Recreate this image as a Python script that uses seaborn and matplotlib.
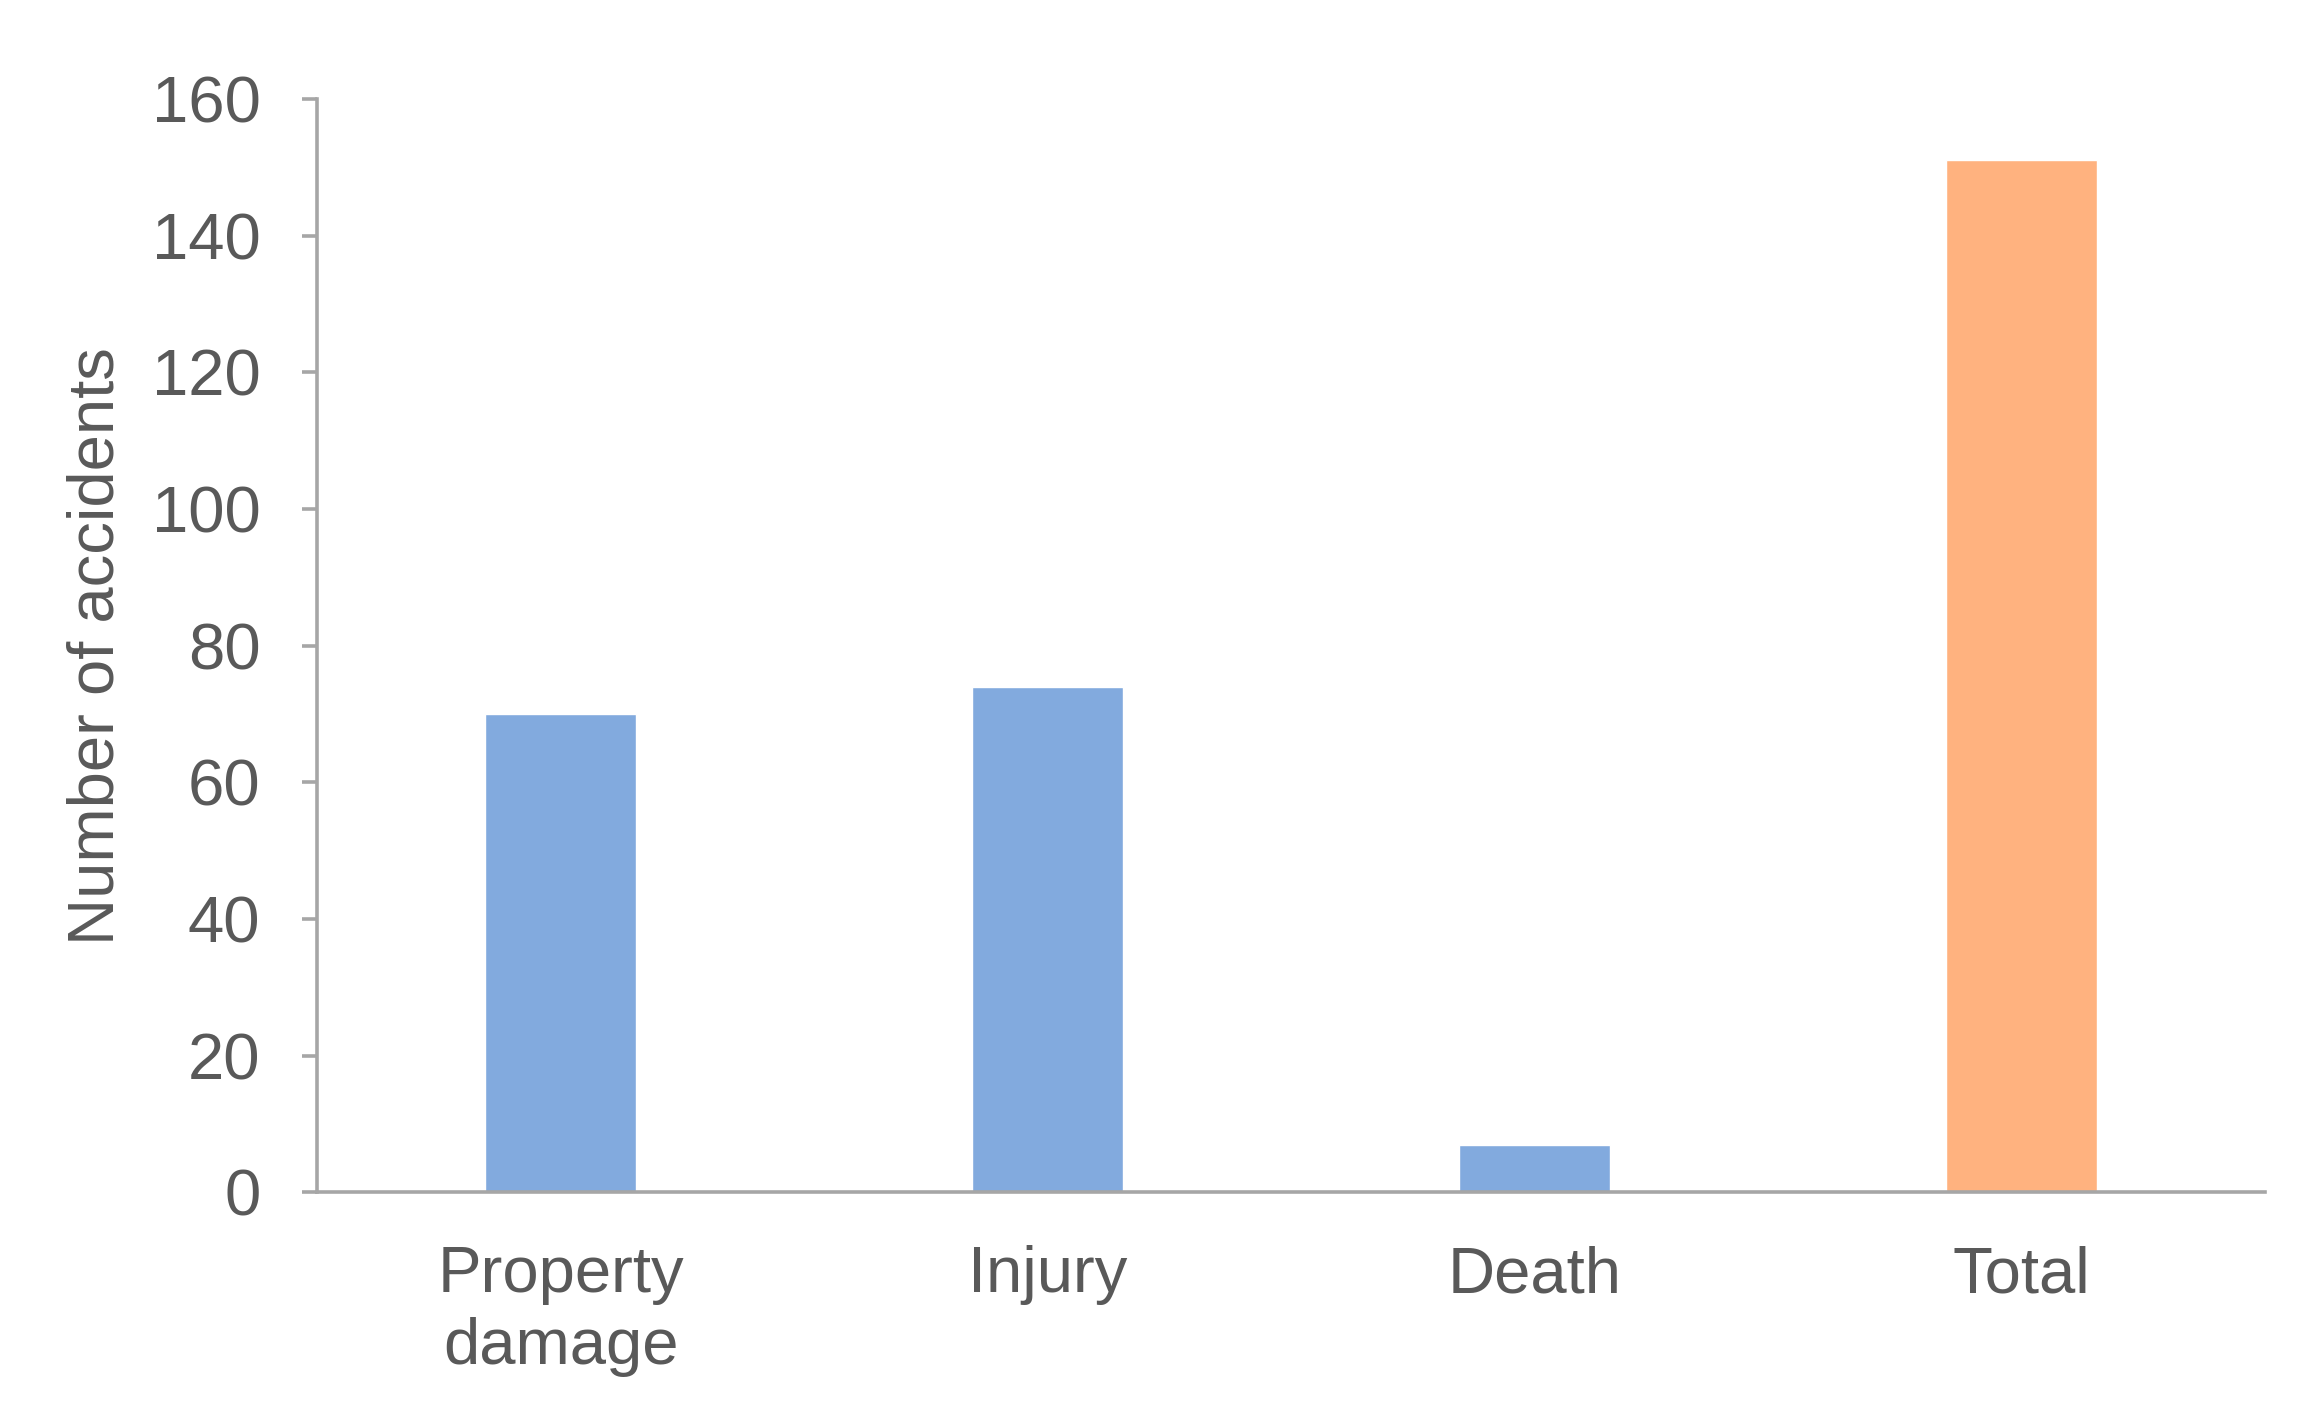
import matplotlib
matplotlib.use("Agg")
import matplotlib.pyplot as plt
import seaborn as sns
import pandas as pd

categories = ["Property\ndamage", "Injury", "Death", "Total"]
values = [70, 74, 7, 151]
bar_colors = ["#82AADE", "#82AADE", "#82AADE", "#FFB27F"]
y_ticks = [0, 20, 40, 60, 80, 100, 120, 140, 160]

sns.set_theme(style="white")
plt.rcParams["font.family"] = ["Liberation Sans", "DejaVu Sans"]

df = pd.DataFrame({"cat": categories, "val": values})

fig = plt.figure(figsize=(23.17, 14.28), dpi=100)
ax = fig.add_axes([0.137, 0.165, 0.8406, 0.7657])

sns.barplot(data=df, x="cat", y="val", hue="cat", palette=bar_colors,
            width=0.31, legend=False, ax=ax, saturation=1)

text_color = "#595959"
spine_color = "#A6A6A6"
ax.set_xlim(-0.5, 3.5)
ax.set_ylim(0, 160)
ax.set_yticks(y_ticks)
ax.set_xlabel("")
ax.set_ylabel("Number of accidents", fontsize=47, color=text_color, labelpad=18)

for s in ["top", "right"]:
    ax.spines[s].set_visible(False)
for s in ["left", "bottom"]:
    ax.spines[s].set_color(spine_color)
    ax.spines[s].set_linewidth(2.6)

ax.tick_params(axis="y", which="major", length=11, width=2.6, color=spine_color,
               labelsize=47, labelcolor=text_color, pad=30, left=True, direction="out")
ax.tick_params(axis="x", length=0, labelsize=47, labelcolor=text_color, pad=38)
for lab in ax.get_xticklabels():
    lab.set_linespacing(1.25)

fig.savefig("out.png", dpi=100, facecolor="white")
